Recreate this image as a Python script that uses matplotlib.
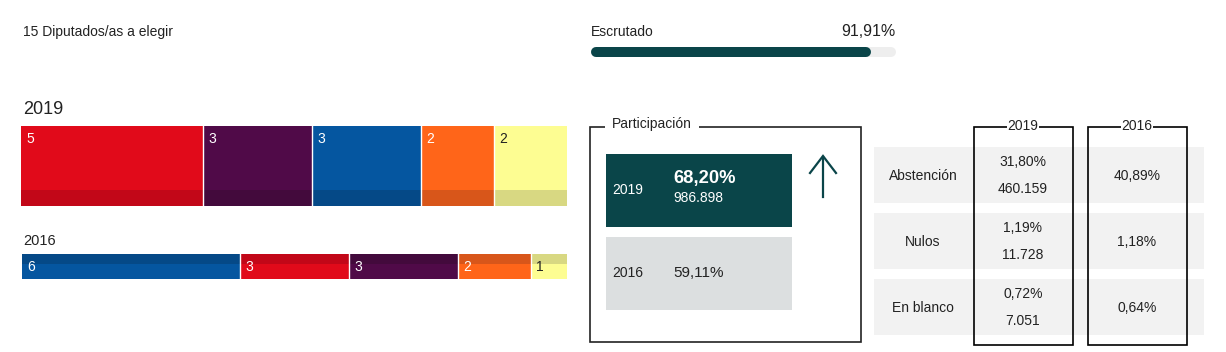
import matplotlib
matplotlib.use("Agg")
import matplotlib.pyplot as plt
from matplotlib.patches import Rectangle

plt.rcParams['font.family'] = ['Liberation Sans', 'DejaVu Sans']

# --- data ---
seats_total = 15
parties_2019 = ['PSOE', 'PP', 'Cs', 'Podemos', 'Vox']
seats_2019 = [5, 3, 3, 2, 2]
colors_2019 = ['#e10a1a', '#500a48', '#0556a0', '#ff6519', '#fdfd92']
dark_2019 = ['#c20718', '#430a3c', '#054987', '#d8561a', '#d8d882']
text_2019 = ['white', 'white', 'white', 'white', '#222222']

seats_2016 = [6, 3, 3, 2, 1]
colors_2016 = ['#0556a0', '#e10a1a', '#500a48', '#ff6519', '#fdfd92']
dark_2016 = ['#054987', '#c20718', '#430a3c', '#d8561a', '#d8d882']
text_2016 = ['white', 'white', 'white', 'white', '#222222']

escrutado = 91.91
part_2019 = '68,20%'
votes_2019 = '986.898'
part_2016 = '59,11%'

row_labels = ['Abstención', 'Nulos', 'En blanco']
pct_2019 = ['31,80%', '1,19%', '0,72%']
abs_2019 = ['460.159', '11.728', '7.051']
pct_2016 = ['40,89%', '1,18%', '0,64%']

W, H = 1226, 352
TEAL = '#0a4549'
TXT = '#222222'

fig = plt.figure(figsize=(W / 100, H / 100), dpi=100)
ax = fig.add_axes([0, 0, 1, 1])
ax.set_xlim(0, W)
ax.set_ylim(H, 0)
ax.axis('off')


def px_axes(x0, y0, x1, y1):
    a = fig.add_axes([x0 / W, 1 - y1 / H, (x1 - x0) / W, (y1 - y0) / H])
    a.axis('off')
    return a


def seat_bar(box, seats, colors, darks, tcolors, strip, strip_top):
    a = px_axes(*box)
    a.set_xlim(0, seats_total)
    a.set_ylim(0, 1)
    left = 0
    for n, c, d, tc in zip(seats, colors, darks, tcolors):
        a.barh(0, n, left=left, height=1, align='edge', color=c, linewidth=0)
        y0 = 1 - strip if strip_top else 0
        a.barh(y0, n, left=left, height=strip, align='edge', color=d, linewidth=0)
        a.annotate(str(n), (left, 1), xytext=(3.6, -9.6), textcoords='offset points',
                   ha='left', va='center', color=tc, fontsize=10)
        left += n
        if left < seats_total:
            a.axvline(left, color='white', lw=1)


# header
ax.text(23, 32, '15 Diputados/as a elegir', fontsize=10, color=TXT, va='center')
ax.text(23, 110, '2019', fontsize=13, color=TXT, va='center')
ax.text(23, 241, '2016', fontsize=10.5, color=TXT, va='center')

seat_bar((21, 126, 567, 206), seats_2019, colors_2019, dark_2019, text_2019, 0.2, False)
seat_bar((22, 254, 567, 279), seats_2016, colors_2016, dark_2016, text_2016, 0.4, True)

# escrutado progress bar
ax.text(591, 32, 'Escrutado', fontsize=10, color=TXT, va='center')
ax.text(896, 32, f'{escrutado:.2f}%'.replace('.', ','), fontsize=11.5, color=TXT,
        va='center', ha='right')
x0, x1, r = 591, 896, 5
ax.plot([x0 + r, x1 - r], [52, 52], color='#eeeeee', lw=7.2, solid_capstyle='round')
ax.plot([x0 + r, x0 + (x1 - x0) * escrutado / 100 - r], [52, 52], color=TEAL, lw=7.2,
        solid_capstyle='round')

# participacion box
ax.add_patch(Rectangle((590, 127), 271, 215, fill=False, lw=1.2, ec=TXT))
ax.text(612, 124, 'Participación', fontsize=10, color=TXT, va='center',
        bbox=dict(facecolor='white', edgecolor='none', pad=5))
ax.add_patch(Rectangle((606, 154), 186, 73, color=TEAL, lw=0))
ax.text(612, 190, '2019', fontsize=10, color='white', va='center')
ax.text(673, 179, part_2019, fontsize=13.2, fontweight='bold', color='white', va='center')
ax.text(673, 198, votes_2019, fontsize=10, color='white', va='center')
ax.add_patch(Rectangle((606, 237), 186, 73, color='#dcdfe0', lw=0))
ax.text(612, 273, '2016', fontsize=10, color=TXT, va='center')
ax.text(673, 273, part_2016, fontsize=11, color=TXT, va='center')
# arrow up
ax.plot([823, 823], [197, 157], color=TEAL, lw=1.6)
ax.plot([810, 823, 836], [173, 156, 173], color=TEAL, lw=1.6, solid_joinstyle='miter')

# table
row_tops = [147, 213, 279]
row_h = 56
for i, lab in enumerate(row_labels):
    t = row_tops[i]
    ax.add_patch(Rectangle((874, t), 330, row_h, color='#f2f2f2', lw=0))
    mid = t + row_h / 2
    ax.text(923, mid + 1, lab, fontsize=10, color=TXT, ha='center', va='center')
    ax.text(1023, mid - 13, pct_2019[i], fontsize=10, color=TXT, ha='center', va='center')
    ax.text(1023, mid + 14, abs_2019[i], fontsize=10, color=TXT, ha='center', va='center')
    ax.text(1137, mid + 1, pct_2016[i], fontsize=10, color=TXT, ha='center', va='center')

for cx, year in [(1023, '2019'), (1137, '2016')]:
    ax.add_patch(Rectangle((cx - 49, 127), 99, 218, fill=False, lw=1.2, ec='black'))
    ax.text(cx, 126, year, fontsize=10, color=TXT, ha='center', va='center',
            bbox=dict(facecolor='white', edgecolor='none', pad=0.5))

fig.savefig('out.png', dpi=100, facecolor='white')
